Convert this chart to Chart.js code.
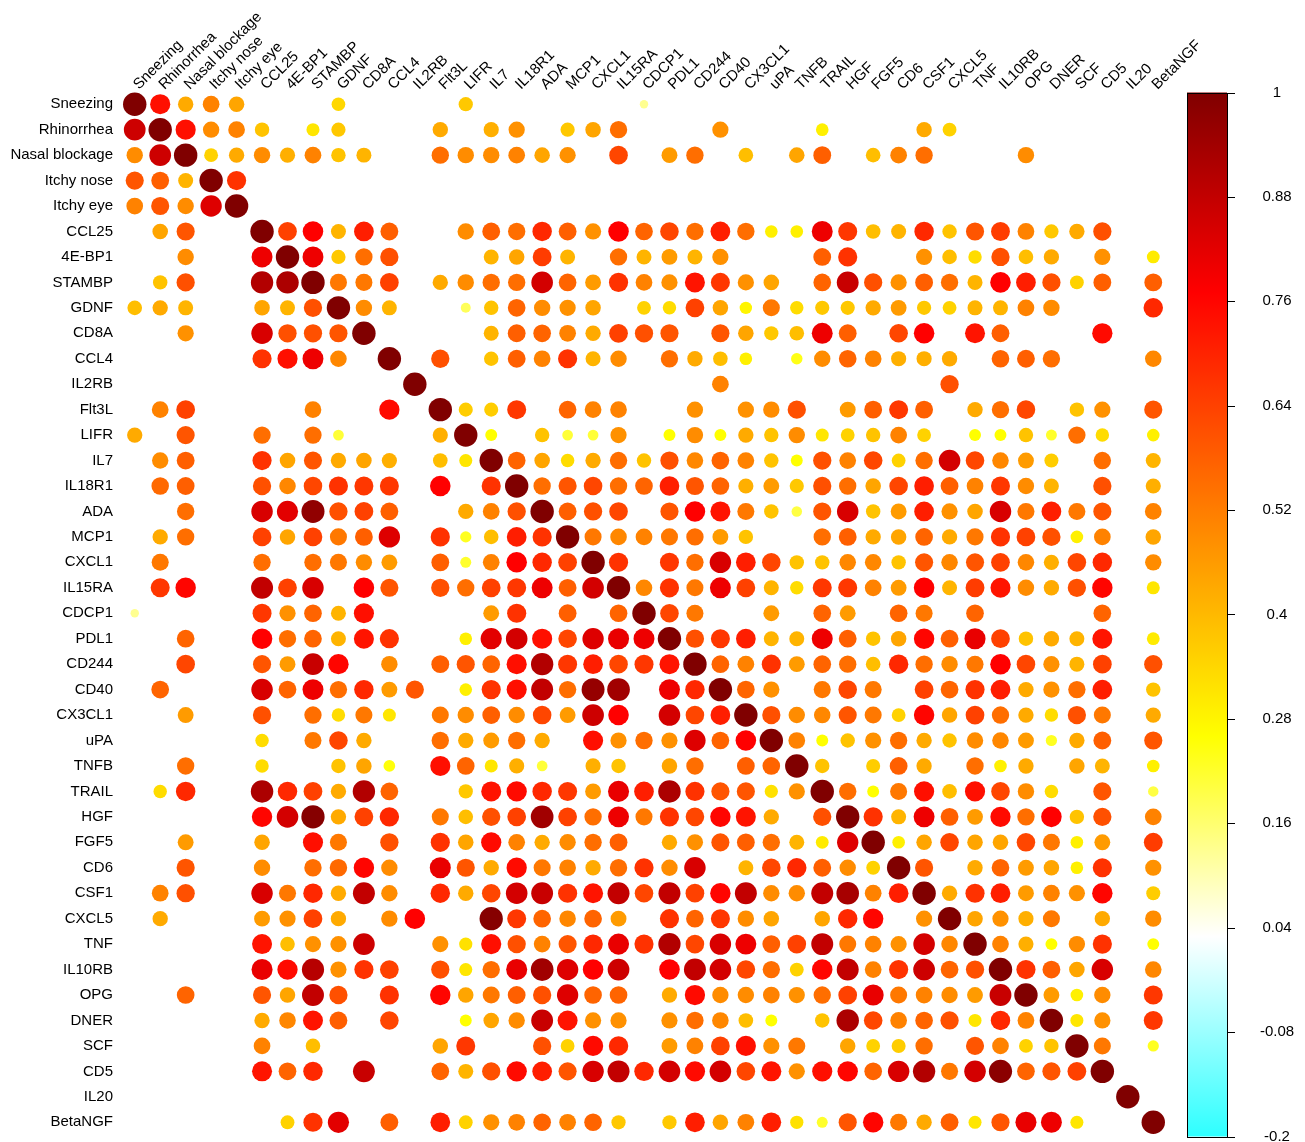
<!DOCTYPE html>
<html>
<head>
<meta charset="utf-8">
<script src="https://cdn.jsdelivr.net/npm/chart.js@4/dist/chart.umd.min.js"></script>
<style>
  html, body { margin: 0; padding: 0; background: #ffffff; }
  #wrap { width: 1305px; height: 1142px; }
</style>
</head>
<body>
<div id="wrap"><canvas id="c" width="1305" height="1142"></canvas></div>
<script>
// Variables shown on both axes (rows top to bottom, columns left to right)
const variables = [
  'Sneezing', 'Rhinorrhea', 'Nasal blockage', 'Itchy nose', 'Itchy eye',
  'CCL25', '4E-BP1', 'STAMBP', 'GDNF', 'CD8A', 'CCL4', 'IL2RB', 'Flt3L', 'LIFR',
  'IL7', 'IL18R1', 'ADA', 'MCP1', 'CXCL1', 'IL15RA', 'CDCP1', 'PDL1', 'CD244',
  'CD40', 'CX3CL1', 'uPA', 'TNFB', 'TRAIL', 'HGF', 'FGF5', 'CD6', 'CSF1', 'CXCL5',
  'TNF', 'IL10RB', 'OPG', 'DNER', 'SCF', 'CD5', 'IL20', 'BetaNGF'
];

// Colour bar tick values
const legendTicks = [1, 0.88, 0.76, 0.64, 0.52, 0.4, 0.28, 0.16, 0.04, -0.08, -0.2];

// Colour scale stops: [value, colour]
const colorStops = [
  [-0.2, [46, 255, 255]],
  [0.03, [255, 255, 255]],
  [0.26, [255, 255, 0]],
  [0.77, [255, 0, 0]],
  [1.0, [128, 0, 0]]
];

// Correlation matrix, one row per variable; _ = not significant (left blank)
const _ = null;
const corr = [
  /* Sneezing */       [1,.74,.43,.51,.44,_,_,_,.34,_, _,_,_,.37,_,_,_,_,_,_, .13,_,_,_,_,_,_,_,_,_, _,_,_,_,_,_,_,_,_,_, _],
  /* Rhinorrhea */     [.86,1,.74,.49,.51,.38,_,.31,.37,_, _,_,.43,_,.42,.48,_,.37,.44,.55, _,_,_,.48,_,_,_,.29,_,_, _,.43,.35,_,_,_,_,_,_,_, _],
  /* Nasal blockage */ [.49,.86,1,.35,.43,.49,.42,.51,.38,.41, _,_,.55,.49,.49,.51,.44,.48,_,.63, _,.46,.55,_,.39,_,.44,.58,_,.39, .51,.55,_,_,_,.49,_,_,_,_, _],
  /* Itchy nose */     [.6,.58,.41,1,.67,_,_,_,_,_, _,_,_,_,_,_,_,_,_,_, _,_,_,_,_,_,_,_,_,_, _,_,_,_,_,_,_,_,_,_, _],
  /* Itchy eye */      [.51,.6,.49,.83,1,_,_,_,_,_, _,_,_,_,_,_,_,_,_,_, _,_,_,_,_,_,_,_,_,_, _,_,_,_,_,_,_,_,_,_, _],
  /* CCL25 */          [_,.44,.6,_,_,1,.64,.77,.41,.71, .58,_,_,.49,.58,.55,.69,.58,.48,.77, .57,.63,.55,.71,.55,.29,.29,.8,.66,.39, .41,.69,.38,.6,.65,.51,.37,.43,.61,_, _],
  /* 4E-BP1 */         [_,_,.49,_,_,.8,1,.8,.37,.55, .61,_,_,_,.41,.44,.65,.41,_,.55, .41,.46,.41,.48,_,_,_,.58,.67,_, _,.48,.39,.33,.61,.39,.43,_,.48,_, .3],
  /* STAMBP */         [_,.38,.61,_,_,.91,.92,1,.53,.53, .64,_,.43,.49,.55,.55,.85,.57,.46,.67, .51,.48,.73,.66,.48,.44,_,.57,.87,.61, .48,.58,.55,.41,.77,.71,.61,.35,.58,_, .58],
  /* GDNF */           [.39,.43,.41,_,_,.44,.41,.61,1,.49, .41,_,_,.18,.38,.57,.49,.48,.44,_, .35,.33,.64,.44,.28,.53,.33,.37,.37,.43, .46,.37,.35,.41,.41,.51,.49,_,_,_, .69],
  /* CD8A */           [_,_,.48,_,_,.84,.61,.61,.6,1, _,_,_,_,.41,.58,.57,.51,.43,.64, .61,.6,_,.6,.44,.37,.39,.8,.58,_, .63,.77,_,.73,.58,_,_,_,.75,_, _],
  /* CCL4 */           [_,_,_,_,_,.67,.74,.8,.5,_, 1,_,.61,_,.38,.58,.51,.67,.41,.49, _,.55,.43,.39,.29,_,.24,.49,.57,.51, .42,.42,.43,_,.57,.58,.55,_,_,_, .5],
  /* IL2RB */          [_,_,_,_,_,_,_,_,_,_, _,1,_,_,_,_,_,_,_,_, _,_,_,.51,_,_,_,_,_,_, _,_,.61,_,_,_,_,_,_,_, _],
  /* Flt3L */          [_,.51,.64,_,_,_,_,.51,_,_, .75,_,1,.36,.36,.66,_,.57,.51,.51, _,_,.48,_,.48,.49,.61,_,.46,.58, .66,.58,_,.43,.55,.63,_,.38,.48,_, .6],
  /* LIFR */           [.43,_,.6,_,_,.55,_,.55,.21,_, _,_,.42,1,.26,_,.38,.21,.21,.48, _,.26,.49,.26,.43,.38,.49,.31,.35,.38, .51,.35,_,.26,.26,.38,.22,.55,.33,_, .29],
  /* IL7 */            [_,.49,.58,_,_,.67,.44,.6,.43,.44, .42,_,.39,.31,1,.57,.44,.33,.43,.55, .38,.61,.5,.57,.51,.38,.26,.61,.51,.63, .35,.55,.85,.63,.5,.46,.36,_,.55,_, .41],
  /* IL18R1 */         [_,.56,.58,_,_,.61,.5,.63,.67,.66, .66,_,.77,_,.67,1,.55,.6,.63,.55, .57,.71,.6,.57,.42,.46,.37,.61,.55,.44, .63,.71,.58,.51,.66,.49,.41,_,.61,_, .42],
  /* ADA */            [_,_,.55,_,_,.84,.82,.97,.61,.64, .58,_,_,.43,.51,.61,1,.58,.61,.63, _,.6,.77,.73,.53,.38,.2,.6,.84,.38, .46,.71,.48,.44,.84,.53,.71,.53,.6,_, .51],
  /* MCP1 */           [_,.43,.55,_,_,.64,.44,.64,.53,.58, .83,_,.67,.23,.39,.71,.67,1,.53,.5, .51,.53,.55,.46,.38,_,_,.55,.58,.43, .44,.57,.43,.53,.67,.64,.61,.29,.51,_, .44],
  /* CXCL1 */          [_,.53,_,_,_,.55,_,.55,.53,.49, .46,_,.58,.22,.51,.77,.69,.64,1,.67, _,.66,.55,.84,.71,.63,.38,.38,.5,.5, .38,.6,.5,.6,.64,.5,.42,.63,.69,_, .49],
  /* IL15RA */         [_,.66,.76,_,_,.88,.64,.84,_,.77, .6,_,.61,.55,.64,.66,.8,.58,.85,1, .5,.67,.53,.8,.64,.41,.33,.66,.66,.51, .46,.77,.41,.65,.73,.49,.43,.61,.76,_, .31],
  /* CDCP1 */          [.13,_,_,_,_,.66,.48,.57,.41,.74, _,_,_,_,.46,.67,_,.58,_,.57, 1,.63,.53,_,_,.46,_,.57,.46,_, .57,.53,_,.57,_,_,_,_,.57,_, _],
  /* PDL1 */           [_,_,.57,_,_,.77,.55,.57,.41,.73, .67,_,_,.29,.82,.85,.74,.63,.83,.81, .8,1,.61,.66,.71,.41,.41,.8,.58,.38, .44,.76,.58,.81,.64,.38,.43,.41,.73,_, .3],
  /* CD244 */          [_,_,.63,_,_,.6,.46,.87,.76,_, .49,_,.58,.6,.57,.74,.91,.66,.71,.63, .66,.73,1,.57,.51,.67,.46,.57,.55,.39, .69,.55,.49,.53,.77,.63,.48,.41,.64,_, .61],
  /* CD40 */           [_,.57,_,_,_,.84,.57,.8,.55,.69, .46,.6,_,.29,.67,.74,.88,.55,.96,.94, _,.8,.69,1,.57,.48,_,.53,.63,.53, _,.64,.57,.67,.71,.43,.48,.55,.71,_, .38],
  /* CX3CL1 */         [_,_,.46,_,_,.61,_,.55,.33,.53, .31,_,.53,.49,.58,.49,.63,.46,.86,.77, _,.85,.63,.71,1,.61,.49,.5,.6,.53, .35,.76,.44,.64,.55,.43,.33,.61,.53,_, .43],
  /* uPA */            [_,_,_,_,_,.33,_,.53,.63,.43, _,_,.55,.43,.46,.55,.43,_,.74,.48, .55,.48,.83,.57,.77,1,.51,.26,.38,.48, .55,.43,.38,.49,.5,.46,.23,.43,.58,_, .6],
  /* TNFB */           [_,_,.55,_,_,.33,_,_,.38,.44, .25,_,.74,.57,.31,.42,.21,_,.42,.38, _,.44,.55,_,.58,.57,1,.38,_,.36, .58,.43,_,.55,.29,.43,_,.44,.41,_, .29],
  /* TRAIL */          [_,.33,.69,_,_,.92,.69,.64,.43,.91, .57,_,_,.37,.73,.75,.69,.66,.46,.81, .71,.92,.67,.6,.6,.32,.48,1,.55,.26, .53,.74,.39,.74,.63,.49,.33,_,.6,_, .2],
  /* HGF */            [_,_,_,_,_,.76,.85,.99,.43,.64, .69,_,.53,.39,.61,.64,.94,.64,.55,.8, .53,.67,.63,.76,.73,.43,_,.61,1,.67, .41,.8,.58,.46,.75,.55,.77,.38,.61,_, .51],
  /* FGF5 */           [_,_,.46,_,_,.44,_,.74,.53,_, .61,_,.67,.44,.75,.51,.43,.49,.55,.58, _,.43,.48,.6,.58,.55,.41,.3,.83,1, .29,.44,.63,.44,.44,.63,.53,.29,.46,_, .65],
  /* CD6 */            [_,_,.6,_,_,.49,_,.55,.56,.76, .49,_,.81,.6,.43,.75,.53,.51,.43,.55, .67,.49,.84,_,.41,.63,.69,.58,.49,.35, 1,.6,_,.43,.57,.46,.44,.29,.67,_, .48],
  /* CSF1 */           [_,.51,.61,_,_,.84,.53,.69,.43,.88, .49,_,.69,.43,.63,.85,.87,.67,.73,.88, .63,.88,.64,.76,.88,.49,.49,.88,.93,.51, .71,1,.43,.67,.71,.46,.51,.48,.76,_, .36],
  /* CXCL5 */          [_,.43,_,_,_,.46,.48,.64,.43,_, .49,.77,_,_,.99,.66,.57,.5,.57,.46, _,.67,.57,.66,.49,.44,_,.44,.69,.76, _,.48,1,.44,.48,.42,.53,_,.43,_, .49],
  /* TNF */            [_,_,_,_,_,.73,.39,.48,.48,.86, _,_,.48,.32,.74,.61,.51,.6,.69,.81, .67,.91,.63,.84,.8,.58,.64,.88,.53,.51, .48,.85,.5,1,.51,.42,.26,.49,.67,_, .26],
  /* IL10RB */         [_,_,_,_,_,.81,.75,.9,.48,.67, .64,_,.61,.31,.55,.81,.94,.83,.77,.86, _,.77,.88,.85,.63,.55,.35,.76,.88,.51, .67,.86,.57,.61,1,.67,.58,.44,.84,_, .5],
  /* OPG */            [_,_,.57,_,_,.6,.44,.88,.61,_, .67,_,.76,.44,.53,.58,.61,.83,.57,.57, _,.43,.75,.49,.49,.51,.48,.55,.64,.81, .53,.51,.49,.46,.87,1,.46,.29,.49,_, .66],
  /* DNER */           [_,_,_,_,_,.43,.5,.73,.58,_, .63,_,_,.26,.44,.49,.87,.73,.48,.48, _,.48,.55,.5,.39,.26,_,.38,.92,.63, .51,.57,.61,.31,.69,.51,1,.31,.48,_, .66],
  /* SCF */            [_,_,_,_,_,.51,_,.39,_,_, _,_,.44,.66,_,_,.61,.35,.75,.69, _,.46,.51,.64,.74,.48,.53,_,.44,.35, .36,.55,_,.6,.51,.35,.38,1,.53,_, .23],
  /* CD5 */            [_,_,_,_,_,.73,.57,.69,_,.87, _,_,.57,.41,.61,.75,.71,.6,.84,.88, .69,.85,.75,.85,.63,.73,.48,.74,.76,.57, .84,.91,.53,.85,.98,.57,.6,.64,1,_, _],
  /* IL20 */           [_,_,_,_,_,_,_,_,_,_, _,_,_,_,_,_,_,_,_,_, _,_,_,_,_,_,_,_,_,_, _,_,_,_,_,_,_,_,_,1, _],
  /* BetaNGF */        [_,_,_,_,_,_,.35,.67,.82,_, .58,_,.71,.35,.48,.51,.57,.51,.57,.37, _,.37,.71,.44,.51,.71,.32,.22,.6,.76, .53,.43,.58,.31,.6,.81,.8,.31,_,_, 1]
];

corr.forEach((row, i) => {
  if (row.length !== variables.length) throw new Error('row ' + i + ' has ' + row.length + ' entries');
});

const FONT = '"Liberation Sans", Arial, Helvetica, sans-serif';

function colorFor(v) {
  const c = Math.max(colorStops[0][0], Math.min(1, v));
  for (let k = 1; k < colorStops.length; k++) {
    const [v1, c1] = colorStops[k];
    const [v0, c0] = colorStops[k - 1];
    if (c <= v1) {
      const t = (c - v0) / (v1 - v0);
      const rgb = c0.map((a, n) => Math.round(a + (c1[n] - a) * t));
      return 'rgb(' + rgb.join(',') + ')';
    }
  }
  return 'rgb(128,0,0)';
}

// One point per significant cell
const points = [];
corr.forEach((row, i) => {
  row.forEach((v, j) => {
    if (v !== null) points.push({ x: variables[j], y: variables[i], v: v });
  });
});

// Colour legend drawn beside the matrix
const colorBarPlugin = {
  id: 'colorBar',
  afterDraw(chart) {
    const { ctx, chartArea } = chart;
    const x0 = chartArea.right + 21;
    const w = 40;
    const y0 = chartArea.top + 1;
    const y1 = chartArea.bottom + 1.5;
    const lo = legendTicks[legendTicks.length - 1];
    const hi = legendTicks[0];
    const grad = ctx.createLinearGradient(0, y1, 0, y0);
    colorStops.forEach(([v]) => grad.addColorStop((v - lo) / (hi - lo), colorFor(v)));
    ctx.save();
    ctx.fillStyle = grad;
    ctx.fillRect(x0, y0, w, y1 - y0);
    ctx.strokeStyle = '#000';
    ctx.lineWidth = 1;
    ctx.strokeRect(Math.round(x0) + 0.5, Math.round(y0) + 0.5, w, Math.round(y1 - y0));
    ctx.fillStyle = '#000';
    ctx.font = '15px ' + FONT;
    ctx.textAlign = 'center';
    ctx.textBaseline = 'middle';
    legendTicks.forEach(v => {
      const y = y1 - (v - lo) / (hi - lo) * (y1 - y0);
      ctx.beginPath();
      ctx.moveTo(x0 + w, Math.round(y) + 0.5);
      ctx.lineTo(x0 + w + 8, Math.round(y) + 0.5);
      ctx.stroke();
      ctx.fillText(String(v), x0 + w + 50, y);
    });
    ctx.restore();
  }
};

new Chart(document.getElementById('c'), {
  type: 'bubble',
  data: {
    datasets: [{
      data: points,
      backgroundColor: ctx => colorFor(ctx.raw.v),
      borderWidth: 0,
      radius: ctx => {
        const area = ctx.chart.chartArea;
        const cell = area ? area.width / variables.length : 25.45;
        return 0.46 * Math.sqrt(Math.abs(ctx.raw.v)) * cell;
      }
    }]
  },
  options: {
    responsive: false,
    animation: false,
    events: [],
    layout: { autoPadding: false, padding: { left: 0, right: 139, top: 0, bottom: 7 } },
    plugins: { legend: { display: false }, tooltip: { enabled: false } },
    scales: {
      x: {
        type: 'category',
        labels: variables,
        offset: true,
        position: 'top',
        grid: { display: false, drawTicks: false },
        border: { display: false },
        ticks: {
          autoSkip: false, minRotation: 45, maxRotation: 45,
          padding: -2, labelOffset: 14,
          color: '#000', font: { family: FONT, size: 15 }
        },
        afterFit: s => { s.height = 91.5; s.paddingLeft = 0; s.paddingRight = 0; }
      },
      y: {
        type: 'category',
        labels: variables,
        offset: true,
        grid: { display: false, drawTicks: false },
        border: { display: false },
        ticks: {
          autoSkip: false, padding: 9,
          color: '#000', font: { family: FONT, size: 15 }
        },
        afterFit: s => { s.width = 122; s.paddingTop = 0; s.paddingBottom = 0; }
      }
    }
  },
  plugins: [colorBarPlugin]
});
</script>
</body>
</html>
